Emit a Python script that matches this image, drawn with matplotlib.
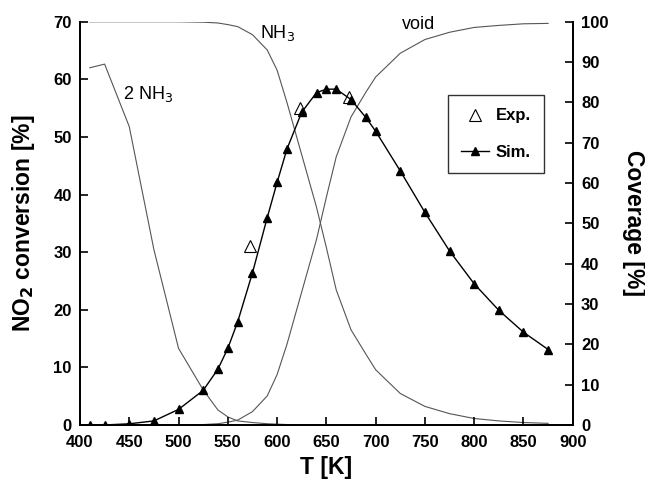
import matplotlib
matplotlib.use("Agg")
import matplotlib.pyplot as plt

plt.rcParams['font.family'] = ['Liberation Sans', 'DejaVu Sans']
plt.rcParams.update({
    'xtick.direction': 'in', 'ytick.direction': 'in',
    'xtick.major.size': 6, 'ytick.major.size': 6,
    'xtick.major.width': 1.2, 'ytick.major.width': 1.2,
    'xtick.major.pad': 7.5, 'ytick.major.pad': 6,
    'xtick.labelsize': 12, 'ytick.labelsize': 12,
})

# temperatures of the simulation [K]
T_sim = [410, 425, 450, 475, 500, 525, 540, 550, 560, 575, 590, 600, 610, 625,
         640, 650, 660, 675, 690, 700, 725, 750, 775, 800, 825, 850, 875]
# simulated NO2 conversion [%]
conv_sim = [0.0, 0.0, 0.2, 0.7, 2.7, 6.0, 9.7, 13.3, 17.9, 26.4, 36.0, 42.1, 47.9, 54.3,
            57.7, 58.3, 58.3, 56.5, 53.4, 51.0, 44.1, 36.9, 30.2, 24.5, 19.9, 16.1, 13.1]

# experimental NO2 conversion [%]
T_exp = [573, 623, 673]
conv_exp = [31.0, 55.0, 57.0]

# surface coverage [%]
cov_nh3 = [100, 100, 100, 100, 100, 99.9, 99.7, 99.3, 98.8, 96.8, 93.0, 88.0, 80.0, 67.0,
           54.0, 44.0, 33.5, 23.6, 17.6, 13.7, 7.8, 4.6, 2.8, 1.6, 1.0, 0.6, 0.4]
cov_2nh3 = [88.6, 89.5, 74.0, 43.5, 19.0, 8.7, 3.7, 2.0, 1.0, 0.6, 0.3, 0.2, 0.1, 0.0,
            0.0, 0.0, 0.0, 0.0, 0.0, 0.0, 0.0, 0.0, 0.0, 0.0, 0.0, 0.0, 0.0]
cov_void = [0, 0, 0, 0, 0, 0.1, 0.3, 0.7, 1.2, 3.3, 7.2, 12.5, 20.0, 33.0,
            46.0, 56.5, 66.5, 76.4, 82.5, 86.3, 92.2, 95.6, 97.4, 98.6, 99.1, 99.5, 99.6]

x_ticks = list(range(400, 901, 50))
y_ticks = list(range(0, 71, 10))
cov_ticks = list(range(0, 101, 10))

fig = plt.figure(figsize=(6.45, 4.84), dpi=100)
ax = fig.add_axes([0.124, 0.122, 0.764, 0.833])
ax2 = ax.twinx()

gray = '#555555'
ax2.plot(T_sim, cov_nh3, color=gray, lw=0.8)
ax2.plot(T_sim, cov_2nh3, color=gray, lw=0.8)
ax2.plot(T_sim, cov_void, color=gray, lw=0.8)
ax2.text(583, 97.3, 'NH$_3$', fontsize=13, ha='left', va='center')
ax2.text(443.5, 82, '2 NH$_3$', fontsize=13, ha='left', va='center')
ax2.text(744, 99.3, 'void', fontsize=13, ha='center', va='center')

# put the conversion axis on top
ax.set_zorder(ax2.get_zorder() + 1)
ax.patch.set_visible(False)

ax.plot(T_exp, conv_exp, linestyle='none', marker='^', markersize=8,
        markerfacecolor='white', markeredgecolor='black', markeredgewidth=0.8, label='Exp.')
ax.plot(T_sim, conv_sim, color='black', lw=1.0, marker='^', markersize=5.5,
        markerfacecolor='black', label='Sim.')

ax.set_xlim(400, 900)
ax.set_ylim(0, 70)
ax2.set_ylim(0, 100)
ax.set_xticks(x_ticks, [str(t) for t in x_ticks], fontweight='bold')
ax.set_yticks(y_ticks, [str(t) for t in y_ticks], fontweight='bold')
ax2.set_yticks(cov_ticks, [str(t) for t in cov_ticks], fontweight='bold')

for a in (ax, ax2):
    a.spines['top'].set_visible(False)
    for s in a.spines.values():
        s.set_linewidth(1.3)

ax.set_xlabel('T [K]', fontsize=16.5, fontweight='bold', labelpad=4)
ax.set_ylabel('NO$_\\mathbf{2}$ conversion [%]', fontsize=16.5, fontweight='bold', labelpad=12)
ax2.set_ylabel('Coverage [%]', fontsize=16.5, fontweight='bold', rotation=270, labelpad=26)

leg = ax.legend(loc='upper left', bbox_to_anchor=(0.746, 0.818), borderaxespad=0,
                frameon=True, fancybox=False, prop={'weight': 'bold', 'size': 12},
                handlelength=1.7, handletextpad=0.4, borderpad=0.8, labelspacing=1.3)
leg.get_frame().set_edgecolor('black')
leg.get_frame().set_linewidth(1.0)

fig.savefig('out.png', dpi=100)
